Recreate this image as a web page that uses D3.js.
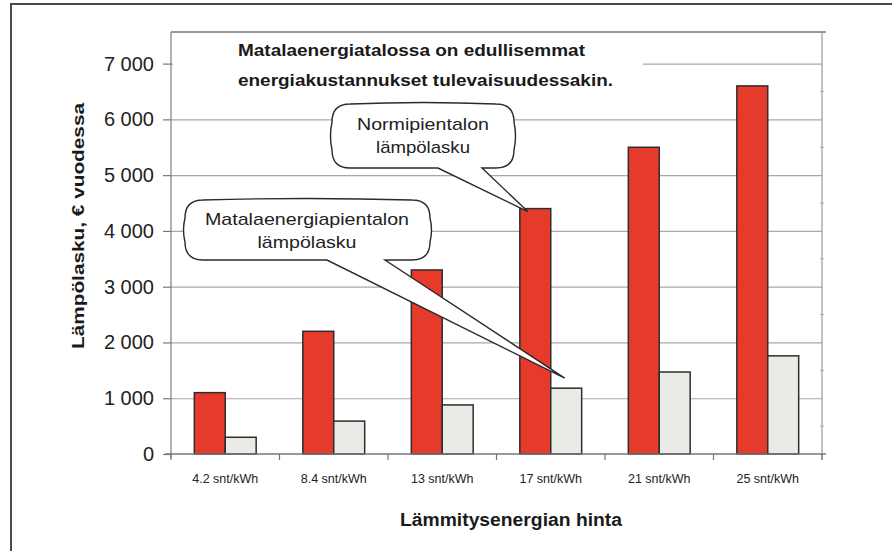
<!DOCTYPE html>
<html>
<head>
<meta charset="utf-8">
<script src="https://cdn.jsdelivr.net/npm/d3@7"></script>
<style>
  html, body { margin: 0; padding: 0; background: #fff; }
  svg { display: block; font-family: "Liberation Sans", Arial, sans-serif; }
</style>
</head>
<body>
<svg id="chart" width="892" height="551"></svg>
<script>
// ---- data ----
const categories = ["4.2 snt/kWh", "8.4 snt/kWh", "13 snt/kWh", "17 snt/kWh", "21 snt/kWh", "25 snt/kWh"];
const normiValues = [1100, 2200, 3300, 4400, 5500, 6600];
const matalaValues = [300, 590, 880, 1180, 1470, 1760];
const seriesKeys = ["normi", "matala"];
const yTicks = [0, 1000, 2000, 3000, 4000, 5000, 6000, 7000];
const yTickLabels = ["0", "1 000", "2 000", "3 000", "4 000", "5 000", "6 000", "7 000"];
const titleLines = ["Matalaenergiatalossa on edullisemmat", "energiakustannukset tulevaisuudessakin."];
const yTitle = "Lämpölasku, € vuodessa";
const xTitle = "Lämmitysenergian hinta";
const calloutNormi = ["Normipientalon", "lämpölasku"];
const calloutMatala = ["Matalaenergiapientalon", "lämpölasku"];

const svg = d3.select("#chart");
const plot = { left: 171, right: 822, top: 32, bottom: 454 };

const x = d3.scaleBand().domain(categories).range([plot.left, plot.right])
  .paddingInner(0.43).paddingOuter(0.215);
const xs = d3.scaleBand().domain(seriesKeys).range([0, x.bandwidth()]);
const y = d3.scaleLinear().domain([0, 7000]).range([plot.bottom, 63.6]);

// outer frame
svg.append("path").attr("d", `M11,551 L11,4 L892,4`).attr("fill", "none")
  .attr("stroke", "#4a4a4a").attr("stroke-width", 2);

// gridlines
svg.append("g").attr("transform", `translate(${plot.left},0)`)
  .call(d3.axisLeft(y).tickValues(yTicks.slice(1)).tickSize(-(plot.right - plot.left)).tickFormat(""))
  .call(g => g.select(".domain").remove())
  .call(g => g.selectAll("line").attr("stroke", "#a8a8a8").attr("stroke-width", 1.2));

// plot border top & right
svg.append("path").attr("d", `M${plot.left},${plot.top} L${plot.right + 4},${plot.top}`)
  .attr("stroke", "#777").attr("stroke-width", 1.5);
svg.append("path").attr("d", `M${plot.right},${plot.top} L${plot.right},${plot.bottom + 6}`)
  .attr("stroke", "#999").attr("stroke-width", 1.2);
svg.append("g").selectAll("line").data(yTicks.slice(1)).join("line")
  .attr("x1", plot.right - 2).attr("x2", plot.right + 2)
  .attr("y1", d => y(d - 500)).attr("y2", d => y(d - 500))
  .attr("stroke", "#aaa").attr("stroke-width", 1);

// title white backing and text
svg.append("rect").attr("x", plot.left + 2).attr("y", plot.top + 2).attr("width", 470).attr("height", 62)
  .attr("fill", "#fff");
const titleLengths = [347, 375];
svg.append("g").selectAll("text").data(titleLines).join("text")
  .attr("x", 238).attr("y", (d, i) => 56 + i * 30)
  .attr("font-size", 17).attr("font-weight", "bold").attr("fill", "#1a1a1a")
  .attr("textLength", (d, i) => titleLengths[i]).attr("lengthAdjust", "spacingAndGlyphs")
  .text(d => d);

// bars
const groups = svg.append("g").selectAll("g").data(categories).join("g")
  .attr("transform", d => `translate(${x(d)},0)`);
groups.selectAll("rect").data((d, i) => [
    { key: "normi", value: normiValues[i] },
    { key: "matala", value: matalaValues[i] }])
  .join("rect")
  .attr("x", d => xs(d.key))
  .attr("width", xs.bandwidth())
  .attr("y", d => y(d.value))
  .attr("height", d => y(0) - y(d.value))
  .attr("fill", d => d.key === "normi" ? "#e63a2b" : "#e9ebe6")
  .attr("stroke", "#2e2e2e").attr("stroke-width", 1.5);

// y axis
const yAxis = svg.append("g").attr("transform", `translate(${plot.left},0)`)
  .call(d3.axisLeft(y).tickValues(yTicks).tickFormat((d, i) => yTickLabels[i]).tickSize(8).tickPadding(9));
yAxis.select(".domain").attr("stroke", "#888").attr("stroke-width", 1.3)
  .attr("d", `M0,${plot.top}V${plot.bottom + 4}`);
yAxis.selectAll(".tick line").attr("stroke", "#777").attr("stroke-width", 1.2);
yAxis.selectAll(".tick text").attr("font-size", 20).attr("fill", "#222")
  .attr("font-family", "Liberation Sans, Arial, sans-serif");

// x axis
const xAxis = svg.append("g").attr("transform", `translate(0,${plot.bottom})`)
  .call(d3.axisBottom(x).tickSize(0).tickPadding(20));
xAxis.select(".domain").attr("stroke", "#777").attr("stroke-width", 1.5)
  .attr("d", `M${plot.left - 6},0H${plot.right + 4}`);
xAxis.selectAll(".tick text").attr("font-size", 12.5).attr("fill", "#222")
  .attr("font-family", "Liberation Sans, Arial, sans-serif");
const bounds = d3.range(categories.length + 1).map(i => plot.left + i * x.step());
svg.append("g").selectAll("line").data(bounds).join("line")
  .attr("x1", d => d).attr("x2", d => d)
  .attr("y1", plot.bottom).attr("y2", plot.bottom + 6)
  .attr("stroke", "#777").attr("stroke-width", 1.2);

// axis titles
svg.append("text").attr("transform", `translate(84,226) rotate(-90)`)
  .attr("text-anchor", "middle").attr("font-size", 17).attr("font-weight", "bold")
  .attr("fill", "#1a1a1a").attr("textLength", 246).attr("lengthAdjust", "spacingAndGlyphs")
  .text(yTitle);
svg.append("text").attr("x", 511).attr("y", 526)
  .attr("text-anchor", "middle").attr("font-size", 17.5).attr("font-weight", "bold")
  .attr("fill", "#1a1a1a").attr("textLength", 222).attr("lengthAdjust", "spacingAndGlyphs")
  .text(xTitle);

// callouts
function bubble(x0, y0, x1, y1, r, baseL, baseR, tipX, tipY) {
  return `M${x0 + r},${y0}` +
    `Q${(x0 + x1) / 2},${y0 - 3} ${x1 - r},${y0}` +
    `Q${x1},${y0} ${x1},${y0 + r}` +
    `Q${x1 + 3},${(y0 + y1) / 2} ${x1},${y1 - r}` +
    `Q${x1},${y1} ${x1 - r},${y1}` +
    `L${baseR},${y1} L${tipX},${tipY} L${baseL},${y1}` +
    `L${x0 + r},${y1}` +
    `Q${x0},${y1} ${x0},${y1 - r}` +
    `Q${x0 - 3},${(y0 + y1) / 2} ${x0},${y0 + r}` +
    `Q${x0},${y0} ${x0 + r},${y0}Z`;
}
const callG = svg.append("g");
const tipNormi = [x(categories[3]) + xs("normi") + 8, y(normiValues[3]) + 3];
const tipMatala = [x(categories[3]) + xs("matala") + 14, y(matalaValues[3]) - 10];
callG.append("path").attr("d", bubble(332, 104, 514, 168, 18, 438, 482, tipNormi[0], tipNormi[1]))
  .attr("fill", "#fff").attr("stroke", "#2a2a2a").attr("stroke-width", 1.4);
callG.append("path").attr("d", bubble(185, 200, 430, 260, 18, 327, 385, tipMatala[0], tipMatala[1]))
  .attr("fill", "#fff").attr("stroke", "#2a2a2a").attr("stroke-width", 1.4);
const normiLengths = [132, 94];
const matalaLengths = [204, 99];
callG.append("g").selectAll("text").data(calloutNormi).join("text")
  .attr("x", 423).attr("y", (d, i) => 130 + i * 23).attr("text-anchor", "middle")
  .attr("font-size", 17).attr("fill", "#222")
  .attr("textLength", (d, i) => normiLengths[i]).attr("lengthAdjust", "spacingAndGlyphs")
  .text(d => d);
callG.append("g").selectAll("text").data(calloutMatala).join("text")
  .attr("x", 307).attr("y", (d, i) => 225 + i * 23).attr("text-anchor", "middle")
  .attr("font-size", 17).attr("fill", "#222")
  .attr("textLength", (d, i) => matalaLengths[i]).attr("lengthAdjust", "spacingAndGlyphs")
  .text(d => d);
</script>
</body>
</html>
